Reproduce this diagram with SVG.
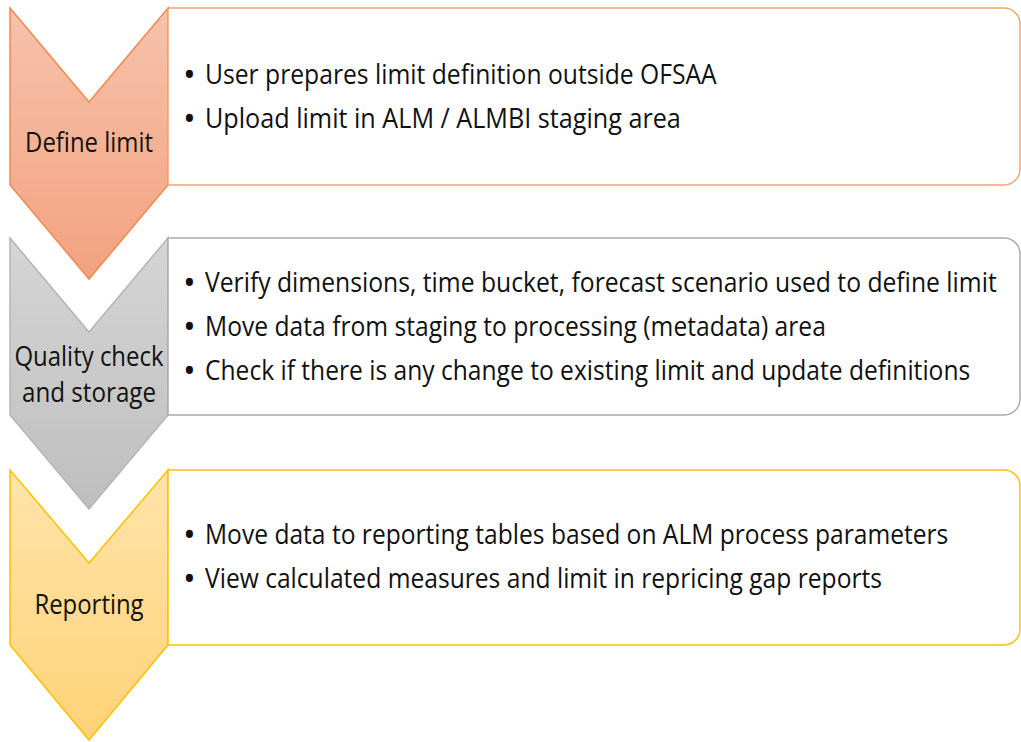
<svg xmlns="http://www.w3.org/2000/svg" width="1021" height="742" viewBox="0 0 1021 742">
<defs>
<linearGradient id="gOrange" x1="0" y1="0" x2="0" y2="1"><stop offset="0" stop-color="#F6C2AB"/><stop offset="1" stop-color="#F3A27F"/></linearGradient>
<linearGradient id="gGray" x1="0" y1="0" x2="0" y2="1"><stop offset="0" stop-color="#D5D5D5"/><stop offset="1" stop-color="#BEBEBE"/></linearGradient>
<linearGradient id="gYellow" x1="0" y1="0" x2="0" y2="1"><stop offset="0" stop-color="#FFE4AA"/><stop offset="1" stop-color="#FFD278"/></linearGradient>
<style>
text{font-family:"Open Sans","Liberation Sans",sans-serif;font-size:28px;fill:#111;}
.lbl{text-anchor:middle;}
.bul{font-size:34px;}
.box{fill:#FFFFFF;stroke-width:1.5;}
.chev{stroke-width:1.5;}
</style>
</defs>
<rect width="1021" height="742" fill="#FFFFFF"/>
<g id="define-limit">
<path class="chev" d="M10,8 L89,102 L168,8 L168,185 L89,279 L10,185 Z" fill="url(#gOrange)" stroke="#F08A50"/>
<text class="lbl" transform="translate(89 152) scale(0.78 1)" x="0" y="0" textLength="164" lengthAdjust="spacingAndGlyphs">Define limit</text>
</g>
<g id="define-limit-details">
<path class="box" d="M168,8 H1004 A16,16 0 0 1 1020,24 V169 A16,16 0 0 1 1004,185 H168 Z" stroke="#F4A46E"/>
<text class="bul" x="183" y="87">•</text>
<text transform="translate(205 84) scale(0.78 1)" x="0" y="0" textLength="656" lengthAdjust="spacingAndGlyphs">User prepares limit definition outside OFSAA</text>
<text class="bul" x="183" y="131">•</text>
<text transform="translate(205 128) scale(0.78 1)" x="0" y="0" textLength="610" lengthAdjust="spacingAndGlyphs">Upload limit in ALM / ALMBI staging area</text>
</g>
<g id="quality-check">
<path class="chev" d="M10,238 L89,332 L168,238 L168,415 L89,509 L10,415 Z" fill="url(#gGray)" stroke="#B5B5B5"/>
<text class="lbl" transform="translate(89 366) scale(0.78 1)" x="0" y="0" textLength="191" lengthAdjust="spacingAndGlyphs">Quality check</text>
<text class="lbl" transform="translate(89 402) scale(0.78 1)" x="0" y="0" textLength="172" lengthAdjust="spacingAndGlyphs">and storage</text>
</g>
<g id="quality-check-details">
<path class="box" d="M168,238 H1004 A16,16 0 0 1 1020,254 V399 A16,16 0 0 1 1004,415 H168 Z" stroke="#ABABAB"/>
<text class="bul" x="183" y="295">•</text>
<text transform="translate(205 292) scale(0.78 1)" x="0" y="0" textLength="1015" lengthAdjust="spacingAndGlyphs">Verify dimensions, time bucket, forecast scenario used to define limit</text>
<text class="bul" x="183" y="339">•</text>
<text transform="translate(205 336) scale(0.78 1)" x="0" y="0" textLength="796" lengthAdjust="spacingAndGlyphs">Move data from staging to processing (metadata) area</text>
<text class="bul" x="183" y="383">•</text>
<text transform="translate(205 380) scale(0.78 1)" x="0" y="0" textLength="981" lengthAdjust="spacingAndGlyphs">Check if there is any change to existing limit and update definitions</text>
</g>
<g id="reporting">
<path class="chev" d="M10,470 L89,563 L168,470 L168,645 L89,740 L10,645 Z" fill="url(#gYellow)" stroke="#FFC000"/>
<text class="lbl" transform="translate(89 614) scale(0.78 1)" x="0" y="0" textLength="140" lengthAdjust="spacingAndGlyphs">Reporting</text>
</g>
<g id="reporting-details">
<path class="box" d="M168,470 H1004 A16,16 0 0 1 1020,486 V629 A16,16 0 0 1 1004,645 H168 Z" stroke="#FFC000"/>
<text class="bul" x="183" y="547">•</text>
<text transform="translate(205 544) scale(0.78 1)" x="0" y="0" textLength="953" lengthAdjust="spacingAndGlyphs">Move data to reporting tables based on ALM process parameters</text>
<text class="bul" x="183" y="591">•</text>
<text transform="translate(205 588) scale(0.78 1)" x="0" y="0" textLength="868" lengthAdjust="spacingAndGlyphs">View calculated measures and limit in repricing gap reports</text>
</g>
<g id="connectors"></g>
</svg>
